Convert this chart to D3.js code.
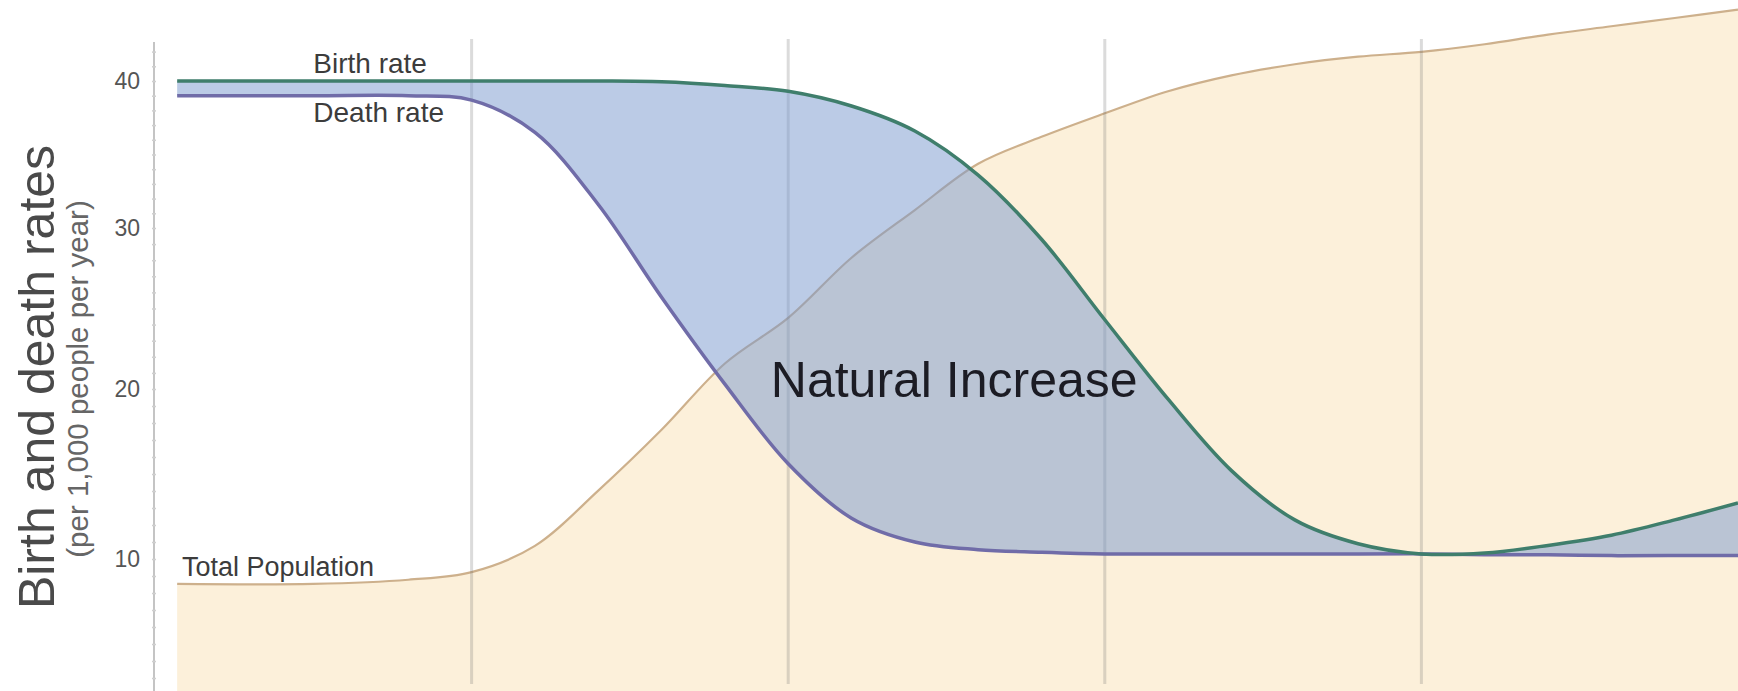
<!DOCTYPE html>
<html>
<head>
<meta charset="utf-8">
<script src="https://cdn.jsdelivr.net/npm/d3@7"></script>
<style>
  html, body { margin: 0; padding: 0; background: #fff; }
  svg { display: block; }
  text { font-family: "Liberation Sans", Arial, Helvetica, sans-serif; }
</style>
</head>
<body>
<svg id="chart" width="1738" height="691"></svg>
<script>
// ---- data (x in "stage" units: 0 = axis, 1..4 = stage boundaries, 5 = right edge)
const stageX = [0.07, 0.5, 0.8, 1.0, 1.2, 1.4, 1.6, 1.8, 2.0, 2.2, 2.4, 2.6, 2.8, 3.0, 3.2, 3.4, 3.6, 3.8, 4.0, 4.2, 4.4, 4.6, 4.8, 5.0];
const birthRate = [40, 40, 40, 40, 40, 40, 39.95, 39.7, 39.3, 38.3, 36.6, 33.6, 29.3, 24.3, 19.4, 15.2, 12.3, 10.9, 10.3, 10.35, 10.8, 11.4, 12.3, 13.3];
const deathRate = [39, 39, 39, 38.7, 36.5, 31.6, 25.7, 20.3, 15.6, 12.4, 11.0, 10.55, 10.4, 10.3, 10.3, 10.3, 10.3, 10.3, 10.3, 10.25, 10.25, 10.2, 10.2, 10.2];
const totalPopulation = [15.5, 15.5, 16.1, 17.2, 21.0, 29.0, 37.8, 47.4, 54.0, 62.7, 69.6, 76.3, 80.2, 83.6, 86.8, 89.1, 90.7, 91.8, 92.5, 93.6, 95.0, 96.2, 97.4, 98.6];
const stageBoundaries = [1, 2, 3, 4];
const rateTicks = [10, 20, 30, 40];
const minorTicks = d3.range(3, 43);

const svg = d3.select("#chart");
const W = 1738, H = 691;

// scales
const x = d3.scaleLinear().domain([0, 5]).range([155, 1738]);
const yRate = d3.scaleLinear().domain([10, 20, 30, 40]).range([559, 389, 228, 81]);
const yPop = d3.scaleLinear().domain([0, 100]).range([691, 0]);

const rows = stageX.map((s, i) => ({ s, b: birthRate[i], d: deathRate[i], p: totalPopulation[i] }));
const curve = d3.curveCatmullRom.alpha(0.5);

// population area
svg.append("path")
  .datum(rows)
  .attr("fill", "#fcf0da")
  .attr("d", d3.area().curve(curve).x(d => x(d.s)).y0(H).y1(d => yPop(d.p)));

svg.append("path")
  .datum(rows)
  .attr("fill", "none")
  .attr("stroke", "#cdb08c")
  .attr("stroke-width", 2.2)
  .attr("d", d3.line().curve(curve).x(d => x(d.s)).y(d => yPop(d.p)));

// stage gridlines
svg.append("g").selectAll("line")
  .data(stageBoundaries)
  .join("line")
  .attr("x1", d => x(d)).attr("x2", d => x(d))
  .attr("y1", 39).attr("y2", 684)
  .attr("stroke", "rgba(110,110,110,0.25)")
  .attr("stroke-width", 3);

// natural increase area
svg.append("path")
  .datum(rows)
  .attr("fill", "rgba(120,152,205,0.5)")
  .attr("d", d3.area().curve(curve).x(d => x(d.s)).y0(d => yRate(d.d)).y1(d => yRate(d.b)));

// death and birth lines
svg.append("path")
  .datum(rows)
  .attr("fill", "none")
  .attr("stroke", "#706ca8")
  .attr("stroke-width", 3.5)
  .attr("d", d3.line().curve(curve).x(d => x(d.s)).y(d => yRate(d.d)));

svg.append("path")
  .datum(rows)
  .attr("fill", "none")
  .attr("stroke", "#3f7e6c")
  .attr("stroke-width", 3.5)
  .attr("d", d3.line().curve(curve).x(d => x(d.s)).y(d => yRate(d.b)));

// y axis
const axisX = 154;
svg.append("line")
  .attr("x1", axisX).attr("x2", axisX).attr("y1", 42).attr("y2", H)
  .attr("stroke", "#c4c4c4").attr("stroke-width", 2);

const minorG = svg.append("g").attr("transform", `translate(${axisX + 2},0)`)
  .call(d3.axisLeft(yRate).tickValues(minorTicks).tickSize(4).tickFormat(""));
minorG.select(".domain").remove();
minorG.selectAll("line").attr("stroke", "#cfcfcf").attr("stroke-width", 1.5);

const majorG = svg.append("g").attr("transform", `translate(${axisX},0)`)
  .call(d3.axisLeft(yRate).tickValues(rateTicks).tickSize(0).tickPadding(14).tickFormat(d3.format("d")));
majorG.select(".domain").remove();
majorG.selectAll("text")
  .attr("font-size", 23)
  .attr("fill", "#555")
  .style("font-family", "'Liberation Sans', Arial, sans-serif");

// axis titles
svg.append("text")
  .attr("transform", `translate(54,377) rotate(-90)`)
  .attr("text-anchor", "middle")
  .attr("font-size", 50)
  .attr("fill", "#4a4a4a")
  .text("Birth and death rates");

svg.append("text")
  .attr("transform", `translate(88,379) rotate(-90)`)
  .attr("text-anchor", "middle")
  .attr("font-size", 29.5)
  .attr("fill", "#666")
  .text("(per 1,000 people per year)");

// series labels
svg.append("text")
  .attr("x", x(0.5)).attr("y", yRate(40) - 8)
  .attr("font-size", 28).attr("fill", "#3c3c3c")
  .text("Birth rate");

svg.append("text")
  .attr("x", x(0.5)).attr("y", yRate(39) + 26)
  .attr("font-size", 28).attr("fill", "#3c3c3c")
  .text("Death rate");

svg.append("text")
  .attr("x", x(0.085)).attr("y", yPop(15.5) - 8)
  .attr("font-size", 27).attr("fill", "#3c3c3c")
  .text("Total Population");

svg.append("text")
  .attr("x", x(1.945)).attr("y", 397)
  .attr("font-size", 50).attr("fill", "#1c1c24")
  .text("Natural Increase");
</script>
</body>
</html>
